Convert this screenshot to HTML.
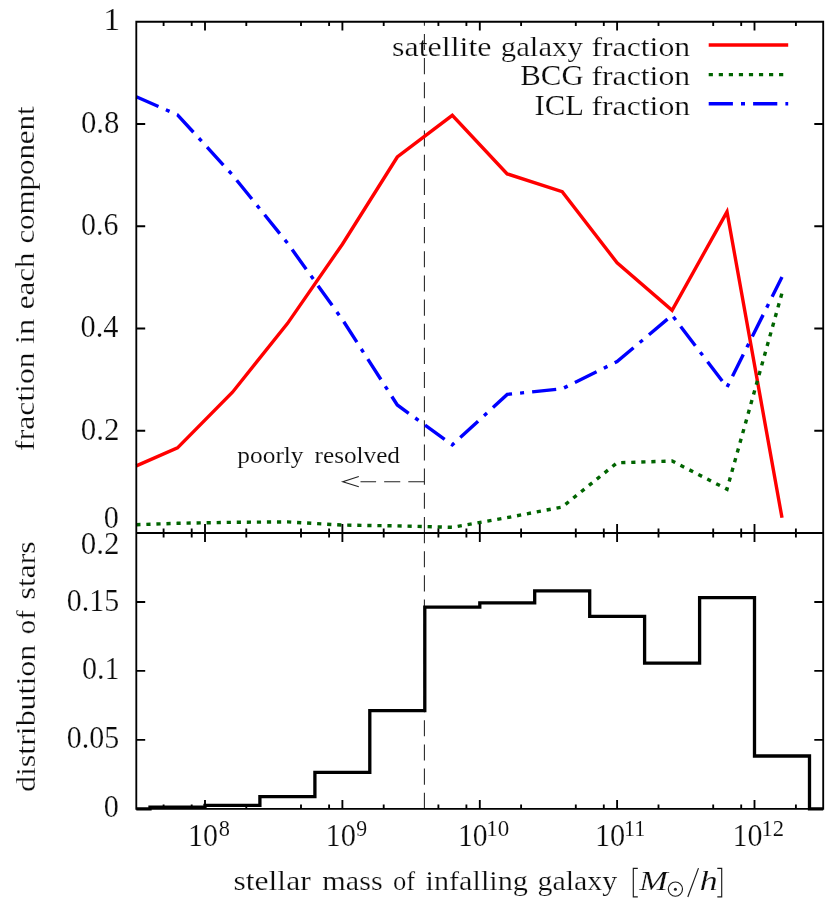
<!DOCTYPE html><html><head><meta charset="utf-8"><title>plot</title><style>html,body{margin:0;padding:0;background:#fff}svg{display:block}text{font-family:"Liberation Serif",serif;fill:#0c0c0c;stroke:#fff;stroke-width:0.22px}</style></head><body>
<svg width="830" height="900" viewBox="0 0 830 900">
<rect width="830" height="900" fill="#fff"/>
<g stroke="#222" stroke-width="1.05" fill="none" stroke-dasharray="16.1 8.05">
<path d="M424.4,533.0 V21.7"/>
<path d="M424.4,808.8 V533.0"/>
<path d="M424.4,481.7 H360.5"/>
</g>
<path d="M358.8,476.6 L342.8,481.7 L358.8,486.8" stroke="#222" stroke-width="1.1" fill="none"/>
<polyline points="136.3,465.9 177.5,447.9 232.5,392.2 287.4,323.6 342.4,244.2 397.3,157.0 452.3,115.3 507.2,173.9 562.2,191.7 617.1,262.8 672.1,310.3 727.0,211.8 782.0,517.8" fill="none" stroke="#ff0000" stroke-width="3.4" stroke-linejoin="miter"/>
<polyline points="136.3,524.7 177.5,523.3 232.5,522.3 287.4,521.9 342.4,525.1 397.3,525.9 452.3,527.3 507.2,517.6 562.2,507.0 617.1,462.8 672.1,461.0 727.0,489.2 782.0,293.0" fill="none" stroke="#006400" stroke-width="3.4" stroke-dasharray="4.2 5.85" stroke-linejoin="miter"/>
<polyline points="136.3,96.8 177.5,114.8 232.5,175.0 287.4,243.0 342.4,319.6 397.3,405.0 452.3,444.8 507.2,394.4 562.2,388.8 617.1,361.6 672.1,315.2 727.0,387.3 782.0,277.0" fill="none" stroke="#0000ff" stroke-width="3.4" stroke-dasharray="24.2 8.1 4 8.1" stroke-linejoin="miter"/>
<path d="M708.7,45 H788.2" stroke="#ff0000" stroke-width="3.4"/>
<path d="M708.7,74.6 H788.2" stroke="#006400" stroke-width="3.4" stroke-dasharray="4.2 5.85"/>
<path d="M708.7,103.8 H788.2" stroke="#0000ff" stroke-width="3.4" stroke-dasharray="24.2 8.1 4 8.1"/>
<polyline points="136.3,808.8 150.0,808.8 150.0,807.2 205.0,807.2 205.0,805.3 259.9,805.3 259.9,796.6 314.9,796.6 314.9,772.3 369.8,772.3 369.8,710.6 424.8,710.6 424.8,607.2 479.8,607.2 479.8,602.8 534.7,602.8 534.7,590.8 589.7,590.8 589.7,616.4 644.6,616.4 644.6,663.2 699.6,663.2 699.6,597.7 754.5,597.7 754.5,756.0 809.5,756.0 809.5,808.8 823.2,808.8" fill="none" stroke="#000" stroke-width="3.3" stroke-linejoin="miter"/>
<g stroke="#000" stroke-width="1.85" fill="none">
<path d="M136.3,21.7 H823.2 V808.8 H136.3 Z" stroke-linejoin="miter"/>
<path d="M136.3,533.0 H823.2"/>
<path d="M163.6,21.7 v4.4 M163.6,528.6 v8.8 M163.6,808.8 v-4.4 M191.7,21.7 v4.4 M191.7,528.6 v8.8 M191.7,808.8 v-4.4 M205.0,21.7 v8.9 M205.0,524.1 v17.8 M205.0,808.8 v-8.9 M246.3,21.7 v4.4 M246.3,528.6 v8.8 M246.3,808.8 v-4.4 M301.0,21.7 v4.4 M301.0,528.6 v8.8 M301.0,808.8 v-4.4 M329.1,21.7 v4.4 M329.1,528.6 v8.8 M329.1,808.8 v-4.4 M342.4,21.7 v8.9 M342.4,524.1 v17.8 M342.4,808.8 v-8.9 M383.7,21.7 v4.4 M383.7,528.6 v8.8 M383.7,808.8 v-4.4 M438.4,21.7 v4.4 M438.4,528.6 v8.8 M438.4,808.8 v-4.4 M466.4,21.7 v4.4 M466.4,528.6 v8.8 M466.4,808.8 v-4.4 M479.8,21.7 v8.9 M479.8,524.1 v17.8 M479.8,808.8 v-8.9 M521.1,21.7 v4.4 M521.1,528.6 v8.8 M521.1,808.8 v-4.4 M575.8,21.7 v4.4 M575.8,528.6 v8.8 M575.8,808.8 v-4.4 M603.8,21.7 v4.4 M603.8,528.6 v8.8 M603.8,808.8 v-4.4 M617.1,21.7 v8.9 M617.1,524.1 v17.8 M617.1,808.8 v-8.9 M658.5,21.7 v4.4 M658.5,528.6 v8.8 M658.5,808.8 v-4.4 M713.2,21.7 v4.4 M713.2,528.6 v8.8 M713.2,808.8 v-4.4 M741.2,21.7 v4.4 M741.2,528.6 v8.8 M741.2,808.8 v-4.4 M754.5,21.7 v8.9 M754.5,524.1 v17.8 M754.5,808.8 v-8.9 M795.9,21.7 v4.4 M795.9,528.6 v8.8 M795.9,808.8 v-4.4 M136.3,430.7 h8.9 M823.2,430.7 h-8.9 M136.3,328.5 h8.9 M823.2,328.5 h-8.9 M136.3,226.2 h8.9 M823.2,226.2 h-8.9 M136.3,124.0 h8.9 M823.2,124.0 h-8.9 M136.3,739.8 h8.9 M823.2,739.8 h-8.9 M136.3,670.9 h8.9 M823.2,670.9 h-8.9 M136.3,602.0 h8.9 M823.2,602.0 h-8.9"/>
</g>
<g opacity="0.999">
<text x="392.02" y="55.6" font-size="28.0" textLength="99.47" lengthAdjust="spacingAndGlyphs">satellite</text>
<text x="500.84" y="55.6" font-size="28.0" textLength="82.02" lengthAdjust="spacingAndGlyphs">galaxy</text>
<text x="591.40" y="55.6" font-size="28.0" textLength="98.84" lengthAdjust="spacingAndGlyphs">fraction</text>
<text x="520.26" y="85.0" font-size="30.2" textLength="63.47" lengthAdjust="spacingAndGlyphs">BCG</text>
<text x="591.40" y="85.0" font-size="28.0" textLength="98.84" lengthAdjust="spacingAndGlyphs">fraction</text>
<text x="534.58" y="114.6" font-size="30.2" textLength="49.33" lengthAdjust="spacingAndGlyphs">ICL</text>
<text x="591.40" y="114.6" font-size="28.0" textLength="98.84" lengthAdjust="spacingAndGlyphs">fraction</text>
<text x="237.38" y="462.8" font-size="23.5" textLength="66.15" lengthAdjust="spacingAndGlyphs" style="stroke-width:0.1px">poorly</text>
<text x="314.56" y="462.8" font-size="23.5" textLength="85.41" lengthAdjust="spacingAndGlyphs" style="stroke-width:0.1px">resolved</text>
<text x="233.40" y="889.7" font-size="28.0" textLength="77.39" lengthAdjust="spacingAndGlyphs">stellar</text>
<text x="322.38" y="889.7" font-size="28.0" textLength="60.24" lengthAdjust="spacingAndGlyphs">mass</text>
<text x="393.08" y="889.7" font-size="28.0" textLength="22.13" lengthAdjust="spacingAndGlyphs">of</text>
<text x="425.58" y="889.7" font-size="28.0" textLength="102.27" lengthAdjust="spacingAndGlyphs">infalling</text>
<text x="537.52" y="889.7" font-size="28.0" textLength="79.61" lengthAdjust="spacingAndGlyphs">galaxy</text>
<text x="639.20" y="889.7" font-size="28.0" textLength="28.60" lengthAdjust="spacingAndGlyphs" font-style="italic">M</text>
<text x="699.62" y="889.7" font-size="28.0" textLength="18.31" lengthAdjust="spacingAndGlyphs" font-style="italic">h</text>
<text x="103.34" y="30.2" font-size="30.5" textLength="17.00" lengthAdjust="spacingAndGlyphs">1</text>
<text x="81.02" y="132.9" font-size="30.5" textLength="38.38" lengthAdjust="spacingAndGlyphs">0.8</text>
<text x="81.02" y="235.1" font-size="30.5" textLength="37.47" lengthAdjust="spacingAndGlyphs">0.6</text>
<text x="80.52" y="337.3" font-size="30.5" textLength="37.95" lengthAdjust="spacingAndGlyphs">0.4</text>
<text x="80.70" y="439.5" font-size="30.5" textLength="38.72" lengthAdjust="spacingAndGlyphs">0.2</text>
<text x="103.70" y="527.7" font-size="30.5" textLength="15.13" lengthAdjust="spacingAndGlyphs">0</text>
<text x="80.70" y="554.2" font-size="30.5" textLength="38.72" lengthAdjust="spacingAndGlyphs">0.2</text>
<text x="66.70" y="610.9" font-size="30.5" textLength="52.46" lengthAdjust="spacingAndGlyphs">0.15</text>
<text x="82.02" y="678.9" font-size="30.5" textLength="37.66" lengthAdjust="spacingAndGlyphs">0.1</text>
<text x="66.70" y="748.0" font-size="30.5" textLength="52.46" lengthAdjust="spacingAndGlyphs">0.05</text>
<text x="103.70" y="816.8" font-size="30.5" textLength="15.13" lengthAdjust="spacingAndGlyphs">0</text>
<text x="187.99" y="845.7" font-size="30.5" textLength="29.97" lengthAdjust="spacingAndGlyphs">10</text>
<text x="218.69" y="835.7" font-size="23.5" textLength="11.16" lengthAdjust="spacingAndGlyphs" style="stroke-width:0.1px">8</text>
<text x="325.57" y="845.7" font-size="30.5" textLength="30.52" lengthAdjust="spacingAndGlyphs">10</text>
<text x="356.27" y="835.7" font-size="23.5" textLength="10.90" lengthAdjust="spacingAndGlyphs" style="stroke-width:0.1px">9</text>
<text x="457.95" y="845.7" font-size="30.5" textLength="29.66" lengthAdjust="spacingAndGlyphs">10</text>
<text x="486.25" y="835.7" font-size="23.5" textLength="23.00" lengthAdjust="spacingAndGlyphs" style="stroke-width:0.1px">10</text>
<text x="594.93" y="845.7" font-size="30.5" textLength="30.36" lengthAdjust="spacingAndGlyphs">10</text>
<text x="624.03" y="835.7" font-size="23.5" textLength="21.42" lengthAdjust="spacingAndGlyphs" style="stroke-width:0.1px">11</text>
<text x="732.51" y="845.7" font-size="30.5" textLength="30.09" lengthAdjust="spacingAndGlyphs">10</text>
<text x="761.61" y="835.7" font-size="23.5" textLength="22.51" lengthAdjust="spacingAndGlyphs" style="stroke-width:0.1px">12</text>
<text transform="translate(34.2,450.92) rotate(-90)" font-size="28.0" textLength="98.48" lengthAdjust="spacingAndGlyphs">fraction</text>
<text transform="translate(34.2,343.98) rotate(-90)" font-size="28.0" textLength="25.23" lengthAdjust="spacingAndGlyphs">in</text>
<text transform="translate(34.2,309.30) rotate(-90)" font-size="28.0" textLength="56.77" lengthAdjust="spacingAndGlyphs">each</text>
<text transform="translate(34.2,243.60) rotate(-90)" font-size="28.0" textLength="137.16" lengthAdjust="spacingAndGlyphs">component</text>
<text transform="translate(34.5,792.04) rotate(-90)" font-size="28.0" textLength="147.36" lengthAdjust="spacingAndGlyphs">distribution</text>
<text transform="translate(34.5,634.24) rotate(-90)" font-size="28.0" textLength="23.96" lengthAdjust="spacingAndGlyphs">of</text>
<text transform="translate(34.5,599.42) rotate(-90)" font-size="28.0" textLength="58.09" lengthAdjust="spacingAndGlyphs">stars</text>
</g>
<g stroke="#1a1a1a" stroke-width="1.15" fill="none">
<path d="M637.8,868.3 H633.3 V896.8 H637.8"/>
<path d="M717.3,868.3 H721.7 V896.8 H717.3"/>
<path d="M687.8,897.0 L698.5,868.1"/>
<circle cx="675.4" cy="889.1" r="7.1"/>
</g>
<circle cx="675.4" cy="889.2" r="1.5" fill="#1a1a1a"/>
</svg></body></html>
